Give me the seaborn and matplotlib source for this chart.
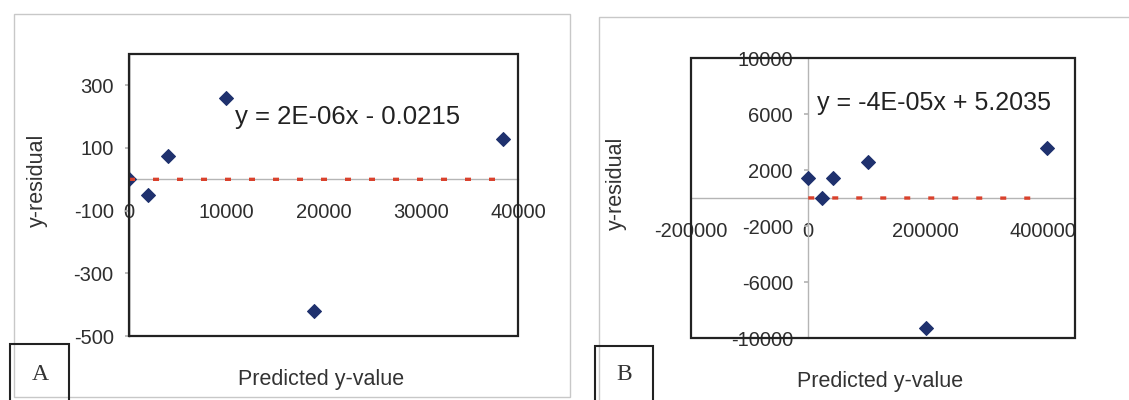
import matplotlib
matplotlib.use("Agg")
import matplotlib.pyplot as plt
from matplotlib.patches import Rectangle
import seaborn as sns
import pandas as pd
import numpy as np

# ---- data ----
a_pred = [0, 2000, 4000, 10000, 19000, 38500]
a_resid = [0, -50, 75, 260, -420, 130]
a_slope, a_intercept = 2e-06, -0.0215
a_equation = "y = 2E-06x - 0.0215"
a_xticks = [0, 10000, 20000, 30000, 40000]
a_yticks = [-500, -300, -100, 100, 300]

b_pred = [0, 24000, 42000, 102000, 200000, 407000]
b_resid = [1450, 30, 1400, 2550, -9300, 3600]
b_slope, b_intercept = -4e-05, 5.2035
b_equation = "y = -4E-05x + 5.2035"
b_xticks = [-200000, 0, 200000, 400000]
b_yticks = [-10000, -6000, -2000, 2000, 6000, 10000]

x_title = "Predicted y-value"
y_title = "y-residual"
panel_labels = ["A", "B"]

sns.set_theme(style="white")
plt.rcParams["font.family"] = ["Liberation Sans", "DejaVu Sans"]

W, H = 1129, 400
fig = plt.figure(figsize=(W / 100, H / 100), dpi=100)
fig.patch.set_facecolor("white")


def px_axes(l, t, r, b):
    return fig.add_axes([l / W, 1 - b / H, (r - l) / W, (b - t) / H])


axA = px_axes(129, 54, 518, 336)
axB = px_axes(691, 58, 1075, 338)

tick_col = "#2e2e2e"
navy = "#1f316e"


def draw(ax, xs, ys, slope, intercept, eq, xlim, ylim, xticks, yticks,
         eq_pos, eq_size, xlab_pos, ylab_pos, show_vline):
    df = pd.DataFrame({"x": xs, "y": ys})
    sns.scatterplot(data=df, x="x", y="y", ax=ax, marker="D", s=50,
                    color=navy, edgecolor=navy, linewidth=0.8, zorder=3)
    tx = [min(xs), max(xs)]
    tdf = pd.DataFrame({"x": tx, "y": [slope * v + intercept for v in tx]})
    sns.lineplot(data=tdf, x="x", y="y", ax=ax, color="#d9412c", lw=2.4,
                 linestyle=(0, (1.8, 5.4)), zorder=4)
    ax.set_xlim(*xlim)
    ax.set_ylim(*ylim)
    ax.set_xticks(xticks)
    ax.set_yticks(yticks)
    ax.set_xticklabels([str(v) for v in xticks])
    ax.set_yticklabels([str(v) for v in yticks])
    for side in ("top", "right"):
        ax.spines[side].set_visible(False)
    ax.spines["bottom"].set_position(("data", 0))
    ax.spines["left"].set_position(("data", 0))
    ax.spines["bottom"].set_color("#b5b5b5")
    ax.spines["bottom"].set_linewidth(1.0)
    ax.spines["left"].set_color("#b5b5b5" if show_vline else "#222222")
    ax.spines["left"].set_linewidth(1.0)
    ax.tick_params(axis="x", length=0, pad=17, labelsize=14.5, labelcolor=tick_col)
    ax.tick_params(axis="y", length=3, color="#b5b5b5", pad=8, labelsize=14.5,
                   labelcolor=tick_col, left=True)
    ax.add_patch(Rectangle((0, 0), 1, 1, transform=ax.transAxes, fill=False,
                           lw=1.6, ec="#222222", clip_on=False, zorder=6))
    ax.text(eq_pos[0], eq_pos[1], eq, transform=ax.transAxes, ha="center",
            va="center", fontsize=eq_size, color="#222222")
    ax.set_xlabel(x_title, fontsize=15.5, color="#333333")
    ax.xaxis.label.set_verticalalignment("center")
    ax.xaxis.set_label_coords(*xlab_pos)
    ax.set_ylabel(y_title, fontsize=15.5, color="#333333")
    ax.yaxis.label.set_verticalalignment("center")
    ax.yaxis.set_label_coords(*ylab_pos)
    ax.grid(False)


draw(axA, a_pred, a_resid, a_slope, a_intercept, a_equation, (0, 40000),
     (-500, 400), a_xticks, a_yticks, (0.563, 0.777), 18.5,
     (0.494, -0.156), (-0.2365, 0.553), False)
draw(axB, b_pred, b_resid, b_slope, b_intercept, b_equation, (-200000, 455000),
     (-10000, 10000), b_xticks, b_yticks, (0.633, 0.839), 18,
     (0.492, -0.157), (-0.193, 0.554), True)

# outer panel frames
fig.patches.append(Rectangle((14 / W, 1 - 397 / H), (570 - 14) / W, (397 - 14) / H,
                             transform=fig.transFigure, fill=False, lw=1.0,
                             ec="#c8c8c8", zorder=0))
fig.patches.append(Rectangle((599 / W, 1 - 420 / H), (1200 - 599) / W, (420 - 17) / H,
                             transform=fig.transFigure, fill=False, lw=1.0,
                             ec="#c8c8c8", zorder=0))
# panel letter boxes
for (l, t, r, cx), lab in zip([(10, 344, 69, 40), (595, 346, 653, 624)], panel_labels):
    fig.patches.append(Rectangle((l / W, 1 - 420 / H), (r - l) / W, (420 - t) / H,
                                 transform=fig.transFigure, fill=False, lw=1.5,
                                 ec="#222222", facecolor="white", zorder=1))
    fig.text(cx / W, 1 - 375 / H, lab, ha="center", va="center", fontsize=17,
             family=["Liberation Serif", "DejaVu Serif"], color="#333333")

fig.savefig("out.png", dpi=100, facecolor="white")
